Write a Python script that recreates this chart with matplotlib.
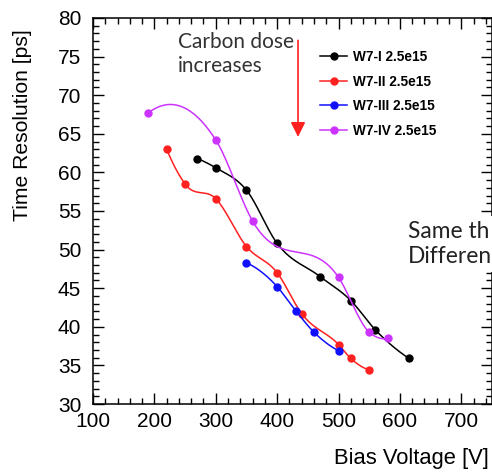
import numpy as np
import matplotlib
matplotlib.use("Agg")
import matplotlib.pyplot as plt

## data

bias_w7_1 = [270, 300, 350, 400, 470, 520, 560, 615]
res_w7_1 = [61.8, 60.6, 57.7, 50.8, 46.5, 43.4, 39.6, 35.9]

bias_w7_2 = [220, 250, 300, 350, 400, 440, 500, 520, 550]
res_w7_2 = [63.0, 58.5, 56.6, 50.4, 47.0, 41.7, 37.7, 35.9, 34.4]

bias_w7_3 = [350, 400, 430, 460, 500]
res_w7_3 = [48.3, 45.2, 42.1, 39.3, 36.9]

bias_w7_4 = [190, 300, 360, 500, 550, 580]
res_w7_4 = [67.7, 64.2, 53.7, 46.4, 39.3, 38.5]

labels = ["W7-I 2.5e15", "W7-II 2.5e15", "W7-III 2.5e15", "W7-IV 2.5e15"]
couleurs = ["black", "#ff2020", "#1010ff", "#cc33ff"]


def lissage(x, y, n=300):
    # interpolation de Hermite, pentes de Bessel (parabole par 3 points)
    x = np.asarray(x, float)
    y = np.asarray(y, float)
    h = np.diff(x)
    d = np.diff(y) / h
    m = np.zeros(len(x))
    m[1:-1] = (h[1:] * d[:-1] + h[:-1] * d[1:]) / (h[:-1] + h[1:])
    m[0] = d[0] - (d[1] - d[0]) * h[0] / (h[0] + h[1])
    m[-1] = d[-1] + (d[-1] - d[-2]) * h[-1] / (h[-2] + h[-1])
    xs = np.linspace(x[0], x[-1], n)
    k = np.clip(np.searchsorted(x, xs) - 1, 0, len(x) - 2)
    s = (xs - x[k]) / h[k]
    h00 = 2 * s**3 - 3 * s**2 + 1
    h10 = s**3 - 2 * s**2 + s
    h01 = -2 * s**3 + 3 * s**2
    h11 = s**3 - s**2
    ys = h00 * y[k] + h10 * h[k] * m[k] + h01 * y[k + 1] + h11 * h[k] * m[k + 1]
    return xs, ys


plt.rcParams['font.family'] = ['Liberation Sans', 'DejaVu Sans']

fig = plt.figure(figsize=(4.92, 4.73), dpi=100)
ax = fig.add_axes([93 / 492, 1 - 404 / 473, 399 / 492, 386 / 473])

series = [(bias_w7_1, res_w7_1), (bias_w7_2, res_w7_2),
          (bias_w7_3, res_w7_3), (bias_w7_4, res_w7_4)]
for (bx, ry), lab, c in zip(series, labels, couleurs):
    xs, ys = lissage(bx, ry)
    ax.plot(xs, ys, color=c, lw=1.1)
    ax.plot(bx, ry, 'o', color=c, ms=5)
    # entree de legende
    ax.plot([], [], '-o', color=c, lw=1.1, ms=5, label=lab)

ax.set_xlim(100, 750)
ax.set_ylim(30, 80)
ax.set_xticks(np.arange(100, 701, 100))
ax.set_xticks(np.arange(100, 750, 20), minor=True)
ax.set_yticks(np.arange(30, 81, 5))
ax.set_yticks(np.arange(30, 81, 1), minor=True)
ax.tick_params(which='both', direction='in', top=True, right=True, width=1.0)
ax.tick_params(which='major', length=8, labelsize=15)
ax.tick_params(axis='x', which='major', pad=6)
ax.tick_params(axis='y', which='major', pad=8.5)
ax.tick_params(which='minor', length=4)
for sp in ax.spines.values():
    sp.set_linewidth(1.1)

ax.set_xlabel("Bias Voltage [V]", fontsize=15.8, loc='right')
ax.set_ylabel("Time Resolution [ps]", fontsize=15.2, loc='top')
ax.xaxis.set_label_coords(0.993, -0.115)
ax.yaxis.set_label_coords(-0.152, 0.97)

leg = ax.legend(loc='upper left', bbox_to_anchor=(320 / 492, 1 - 50 / 473),
                bbox_transform=fig.transFigure, frameon=False, numpoints=1,
                handlelength=2.0, handletextpad=0.4, labelspacing=0.78,
                borderpad=0, borderaxespad=0,
                prop={'family': 'Liberation Sans', 'weight': 'bold', 'size': 9.8})

# fleche + texte
ax.annotate("", xy=(434, 64.6), xytext=(434, 77.1),
            arrowprops=dict(arrowstyle='-|>', color='#ff2020', lw=1.2,
                            mutation_scale=22, shrinkA=0, shrinkB=0))
fig.text(178 / 492, 1 - 72 / 473, "Carbon dose\nincreases", family='Lato',
         fontsize=15, color='#333333', ha='left', va='baseline', linespacing=1.25)

fig.text(408 / 492, 1 - 263 / 473, "Same th\nDifferen", family='Lato',
         fontsize=16.4, color='#222222', ha='left', va='baseline', linespacing=1.22,
         bbox=dict(facecolor='white', edgecolor='none', pad=4))

fig.savefig("out.png", dpi=100)
